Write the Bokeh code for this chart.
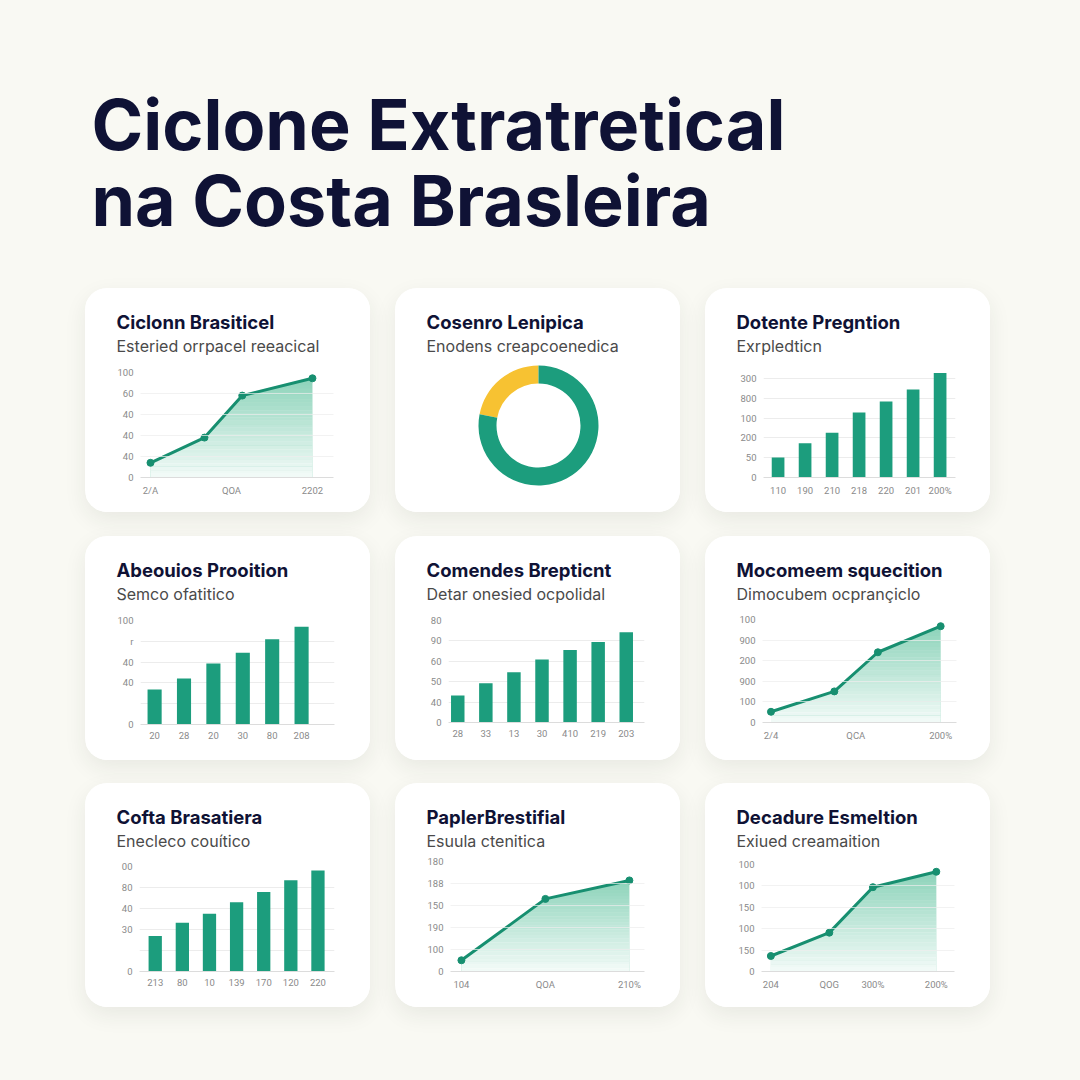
import numpy as np
from bokeh.plotting import figure
from bokeh.layouts import column, row, Spacer
from bokeh.models import Range1d, FixedTicker, Label
from bokeh.embed import file_html
from bokeh.resources import INLINE

# ---------------- data ----------------
main_title = ["Ciclone Extratretical", "na Costa Brasleira"]

c1_title, c1_sub = "Ciclonn Brasiticel", "Esteried orrpacel reeacical"
c1_x = [0, 1.0, 1.7, 3.0]
c1_y = [14, 38, 78, 94.5]
c1_xticks = [0, 1.5, 3]
c1_xlabels = ["2/A", "QOA", "2202"]
c1_ylabels = ["0", "40", "40", "40", "60", "100"]

c2_title, c2_sub = "Cosenro Lenipica", "Enodens creapcoenedica"
c2_values = [22, 78]
c2_names = ["amarelo", "verde"]

c3_title, c3_sub = "Dotente Pregntion", "Exrpledticn"
c3_values = [20.3, 34.5, 45.2, 65.5, 76.7, 88.9, 105.4]
c3_xlabels = ["110", "190", "210", "218", "220", "201", "200%"]
c3_ylabels = ["0", "50", "200", "100", "800", "300"]

c4_title, c4_sub = "Abeouios Prooition", "Semco ofatitico"
c4_values = [33.7, 44.2, 58.7, 69.0, 82.0, 93.9]
c4_xlabels = ["20", "28", "20", "30", "80", "208"]
c4_ylabels = ["0", "", "40", "40", "r", "100"]

c5_title, c5_sub = "Comendes Brepticnt", "Detar onesied ocpolidal"
c5_values = [26.5, 38.5, 49.3, 61.8, 71.0, 79.0, 88.5]
c5_xlabels = ["28", "33", "13", "30", "410", "219", "203"]
c5_ylabels = ["0", "40", "50", "60", "90", "80"]

c6_title, c6_sub = "Mocomeem squecition", "Dimocubem ocprançiclo"
c6_x = [0, 1.12, 1.89, 3.0]
c6_y = [10.4, 30.2, 68.2, 93.5]
c6_xticks = [0, 1.5, 3]
c6_xlabels = ["2/4", "QCA", "200%"]
c6_ylabels = ["0", "100", "900", "200", "900", "100"]

c7_title, c7_sub = "Cofta Brasatiera", "Enecleco couítico"
c7_values = [33.7, 46.4, 55.0, 66.0, 75.8, 86.8, 96.3]
c7_xlabels = ["213", "80", "10", "139", "170", "120", "220"]
c7_ylabels = ["0", "", "30", "40", "80", "00"]

c8_title, c8_sub = "PaplerBrestifial", "Esuula ctenitica"
c8_x = [0, 1, 2]
c8_y = [10.2, 66.0, 82.8]
c8_xticks = [0, 1, 2]
c8_xlabels = ["104", "QOA", "210%"]
c8_ylabels = ["0", "100", "190", "150", "188", "180"]

c9_title, c9_sub = "Decadure Esmeltion", "Exiued creamaition"
c9_x = [0, 1.06, 1.85, 3.0]
c9_y = [14.5, 36.3, 78.8, 93.2]
c9_xticks = [0, 1.06, 1.85, 3.0]
c9_xlabels = ["204", "QOG", "300%", "200%"]
c9_ylabels = ["0", "150", "100", "150", "100", "100"]

y_ticks = [0, 20, 40, 60, 80, 100]

# ---------------- style ----------------
BG = "#f9f9f3"
NAVY = "#0f1235"
GREEN = "#1c9d7d"
LINE_GREEN = "#178f70"
AREA = "#8ed4bb"
YELLOW = "#f7c232"
GRID = "#ececec"
TICK = "#8a8a8a"
CARD_W, CARD_H = 285, 224
HEAD_H = 68                   # height of the title strip inside each card
TITLE_Y, SUB_Y = 33.5, 57.0   # text centres, measured from the card's top
CARD_STYLE = {"border-radius": "22px",
              "box-shadow": "0 8px 22px rgba(40,50,40,0.08)",
              "overflow": "hidden",
              "background-color": "white"}


def plain(fig):
    fig.grid.visible = False
    fig.outline_line_color = None
    fig.background_fill_color = "white"
    fig.border_fill_color = "white"
    fig.frame_align = False


def head(title, sub):
    h = figure(width=CARD_W, height=HEAD_H, x_range=Range1d(0, CARD_W),
               y_range=Range1d(HEAD_H, 0), output_backend="svg", toolbar_location=None,
               min_border=0, x_axis_type=None, y_axis_type=None, title=None)
    plain(h)
    h.add_layout(Label(x=31, y=TITLE_Y, text=title, text_font="Inter",
                       text_font_size="18.5px", text_font_style="bold", text_color=NAVY,
                       text_baseline="middle", text_align="left"))
    h.add_layout(Label(x=31, y=SUB_Y, text=sub, text_font="Inter",
                       text_font_size="16px", text_font_style="normal",
                       text_color="#4a4a4a", text_baseline="middle", text_align="left"))
    return h


def chart(frame, x_range, y_range, axes=True):
    fl, fr, ft, fb = frame
    p = figure(width=CARD_W, height=CARD_H - HEAD_H, output_backend="svg",
               toolbar_location=None, title=None, x_range=x_range, y_range=y_range,
               min_border_left=fl, min_border_right=CARD_W - fr,
               min_border_top=ft - HEAD_H, min_border_bottom=CARD_H - fb,
               x_axis_type="linear" if axes else None,
               y_axis_type="linear" if axes else None)
    plain(p)
    if axes:
        p.ygrid.visible = True
        p.ygrid.grid_line_color = GRID
        p.ygrid.grid_line_width = 1
        for ax in (p.xaxis[0], p.yaxis[0]):
            ax.major_tick_line_color = None
            ax.minor_tick_line_color = None
            ax.major_tick_out = 0
            ax.major_tick_in = 0
            ax.minor_tick_out = 0
            ax.major_label_text_font = "Roboto"
            ax.major_label_text_font_size = "9.5px"
            ax.major_label_text_color = TICK
            ax.major_label_standoff = 7
        p.yaxis.axis_line_color = None
        p.xaxis.axis_line_color = "#dcdcdc"
    return p


def wrap(title, sub, p):
    return column(head(title, sub), p, width=CARD_W, height=CARD_H, styles=CARD_STYLE)


def set_ticks(p, xticks, xlabels, ylabels):
    p.xaxis.ticker = FixedTicker(ticks=list(xticks))
    p.xaxis.major_label_overrides = {t: l for t, l in zip(xticks, xlabels)}
    p.yaxis.ticker = FixedTicker(ticks=y_ticks)
    p.yaxis.major_label_overrides = {t: l for t, l in zip(y_ticks, ylabels)}


def bar_card(title, sub, frame, xr, yr, values, xlabels, ylabels, width):
    idx = list(range(len(values)))
    p = chart(frame, Range1d(*xr), Range1d(*yr))
    p.vbar(x=idx, top=values, width=width, fill_color=GREEN, line_color=None)
    set_ticks(p, idx, xlabels, ylabels)
    return wrap(title, sub, p)


def line_card(title, sub, frame, xr, yr, xs, ys, xticks, xlabels, ylabels):
    p = chart(frame, Range1d(*xr), Range1d(*yr))
    xs = np.asarray(xs, float)
    ys = np.asarray(ys, float)
    p.varea(x=xs, y1=np.zeros_like(ys), y2=ys, fill_color=AREA, fill_alpha=1.0)
    n = 28
    edges = np.linspace(0, ys.max(), n + 1)
    alphas = np.linspace(0.88, 0.0, n)
    p.quad(left=xs[0], right=xs[-1], bottom=edges[:-1], top=edges[1:] + 0.2,
           fill_color="white", fill_alpha=alphas, line_color=None)
    p.line(xs, ys, line_color=LINE_GREEN, line_width=3, line_join="round")
    p.scatter(xs, ys, size=7, fill_color=LINE_GREEN, line_color=LINE_GREEN)
    p.ygrid.level = "annotation"
    p.ygrid.grid_line_alpha = 0.7
    set_ticks(p, xticks, xlabels, ylabels)
    return wrap(title, sub, p)


def donut_card(title, sub, values):
    frame = (40, 245, 72, 224)
    # ranges in pixel-like units so that the centre sits where the ring is
    p = chart(frame, Range1d(-103, 102), Range1d(-87, 65), axes=False)
    v = np.asarray(values, float)
    frac = v / v.sum()
    ends = np.pi / 2 + 2 * np.pi * np.cumsum(frac)
    starts = np.concatenate([[np.pi / 2], ends[:-1]])
    p.annular_wedge(x=0, y=0, inner_radius=42, outer_radius=60,
                    inner_radius_units="screen", outer_radius_units="screen",
                    start_angle=starts, end_angle=ends,
                    fill_color=[YELLOW, GREEN], line_color=None)
    return wrap(title, sub, p)


# ---------------- header ----------------
HDR_H = 288
hdr = figure(width=1080, height=HDR_H, x_range=Range1d(0, 1080), y_range=Range1d(HDR_H, 0),
             output_backend="svg", toolbar_location=None, min_border=0,
             x_axis_type=None, y_axis_type=None, title=None)
hdr.grid.visible = False
hdr.outline_line_color = None
hdr.background_fill_color = BG
hdr.border_fill_color = BG
hdr.frame_align = False
for txt, yc in zip(main_title, [123.5, 199.5]):
    hdr.add_layout(Label(x=91, y=yc, text=txt, text_font="Inter", text_font_size="70px",
                         text_font_style="bold", text_color=NAVY,
                         text_baseline="middle", text_align="left"))

# ---------------- cards ----------------
p1 = line_card(c1_title, c1_sub, (55, 248, 84, 189), (-0.185, 3.39), (0, 100),
               c1_x, c1_y, c1_xticks, c1_xlabels, c1_ylabels)
p2 = donut_card(c2_title, c2_sub, c2_values)
p3 = bar_card(c3_title, c3_sub, (58, 250, 82, 189), (-0.54, 6.57), (0, 108),
              c3_values, c3_xlabels, c3_ylabels, 0.47)
p4 = bar_card(c4_title, c4_sub, (55, 249, 84, 188), (-0.48, 6.12), (0, 100),
              c4_values, c4_xlabels, c4_ylabels, 0.48)
p5 = bar_card(c5_title, c5_sub, (53, 249, 84, 186), (-0.33, 6.65), (0, 100),
              c5_values, c5_xlabels, c5_ylabels, 0.48)
p6 = line_card(c6_title, c6_sub, (57, 251, 83, 186), (-0.15, 3.28), (0, 100),
               c6_x, c6_y, c6_xticks, c6_xlabels, c6_ylabels)
p7 = bar_card(c7_title, c7_sub, (54, 249, 83, 188), (-0.58, 6.61), (0, 100),
              c7_values, c7_xlabels, c7_ylabels, 0.49)
p8 = line_card(c8_title, c8_sub, (55, 249, 78, 188), (-0.13, 2.18), (0, 100),
               c8_x, c8_y, c8_xticks, c8_xlabels, c8_ylabels)
p9 = line_card(c9_title, c9_sub, (56, 249, 81, 188), (-0.17, 3.33), (0, 100),
               c9_x, c9_y, c9_xticks, c9_xlabels, c9_ylabels)


def card_row(a, b, c):
    return row(Spacer(width=85, height=CARD_H), a, Spacer(width=25, height=CARD_H), b,
               Spacer(width=25, height=CARD_H), c)


layout = column(hdr, card_row(p1, p2, p3), Spacer(height=24),
                card_row(p4, p5, p6), Spacer(height=23),
                card_row(p7, p8, p9))
layout.styles = {"background-color": BG}

html = file_html(layout, INLINE, title="Ciclone Extratretical na Costa Brasleira")
html = html.replace("</head>", "<style>html,body{background-color:%s;}</style></head>" % BG, 1)
open("out.html", "w").write(html)
